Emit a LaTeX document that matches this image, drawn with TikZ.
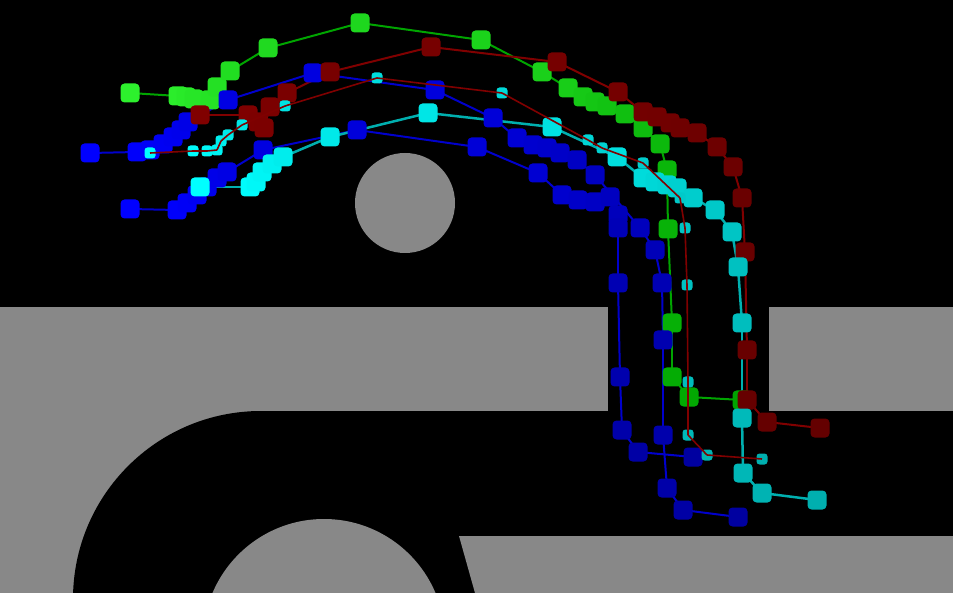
\documentclass[tikz,border=0pt]{standalone}
\pgfdeclarelayer{scene}
\pgfdeclarelayer{paths}
\pgfsetlayers{scene,paths,main}
\definecolor{floorgray}{RGB}{136,136,136}
\definecolor{grnA}{RGB}{45,240,45}
\definecolor{grnB}{RGB}{0,165,0}
\definecolor{redA}{RGB}{128,0,0}
\definecolor{redB}{RGB}{100,0,0}
\definecolor{bluA}{RGB}{0,0,255}
\definecolor{bluB}{RGB}{0,0,160}
\definecolor{cyaA}{RGB}{0,255,255}
\definecolor{cyaB}{RGB}{0,175,175}
\tikzset{
  marker/.style={rounded corners=4pt, minimum size=19pt, inner sep=0pt},
  smallmarker/.style={rounded corners=3pt, minimum size=11pt, inner sep=0pt},
  track/.style={line width=2pt}
}
\begin{document}
\begin{tikzpicture}[x=1pt, y=-1pt]
\useasboundingbox (0,0) rectangle (953,593);
% floor plan
\begin{pgfonlayer}{scene}
\fill[black] (0,0) rectangle (953,593);
\fill[floorgray] (405,203) circle[radius=50pt];
\fill[floorgray] (0,307) rectangle (608,411);
\fill[floorgray] (769,307) rectangle (953,411);
\fill[floorgray] (0,411) rectangle (261,593);
\fill[black] (261,599) circle[radius=188pt];
\fill[floorgray] (324,640) circle[radius=121pt];
\fill[floorgray] (459,536) -- (953,536) -- (953,593) -- (475,593) -- cycle;
\end{pgfonlayer}
% green track
\foreach \p [count=\i] in {(130,93),(178,96),(186,97),(194,99),(210,100),(217,87),(230,71),(268,48),(360,23),(481,40),(542,72),(568,88),(583,97),(595,102),(607,106),(625,114),(643,128),(660,144),(667,170),(668,229),(672,323),(672,377),(689,397),(742,400)} {
  \pgfmathtruncatemacro\t{100*(\i-1)/23}
  \node[marker, fill=grnB!\t!grnA] (g\i) at \p {};
}
% blue tracks
\foreach \p [count=\i] in {(90,153),(137,152),(150,150),(163,144),(173,137),(181,130),(188,122),(228,100),(313,73),(435,90),(493,118),(517,138),(533,145),(547,148),(560,153),(577,160),(595,175),(640,228),(655,250),(662,283),(663,340),(663,435),(667,488),(683,510),(738,517)} {
  \pgfmathtruncatemacro\t{100*(\i-1)/24}
  \node[marker, fill=bluB!\t!bluA] (ba\i) at \p {};
}
\foreach \p [count=\i] in {(130,209),(177,210),(187,203),(197,195),(207,187),(217,178),(227,172),(263,150),(357,130),(477,147),(538,173),(562,195),(578,200),(595,202),(610,197),(618,215),(618,228),(618,283),(620,377),(622,430),(638,452),(693,457)} {
  \pgfmathtruncatemacro\t{100*(\i-1)/21}
  \node[marker, fill=bluB!\t!bluA] (bb\i) at \p {};
}
% red track
\foreach \p [count=\i] in {(200,115),(248,115),(258,122),(264,128),(270,107),(287,93),(330,72),(431,47),(557,62),(618,92),(643,112),(657,117),(670,123),(680,128),(697,133),(717,147),(733,167),(742,198),(745,252),(747,350),(747,400),(767,422),(820,428)} {
  \pgfmathtruncatemacro\t{100*(\i-1)/22}
  \node[marker, fill=redB!\t!redA] (r\i) at \p {};
}
% cyan track
\foreach \p [count=\i] in {(200,187),(250,187),(256,182),(262,172),(272,164),(283,157),(330,137),(428,113),(552,127),(617,157),(643,178),(655,182),(667,185),(677,188),(693,198),(715,210),(732,232),(738,267),(742,323),(742,418),(743,473),(762,493),(817,500)} {
  \pgfmathtruncatemacro\t{100*(\i-1)/22}
  \node[marker, fill=cyaB!\t!cyaA] (c\i) at \p {};
}
% small cyan markers on a red line
\foreach \p [count=\i] in {(150,153),(193,151),(207,151),(217,150),(221,141),(228,135),(242,125),(285,106),(377,78),(502,93),(588,140),(602,148),(643,163),(680,198),(685,228),(687,285),(688,382),(688,435),(707,455),(762,459)} {
  \pgfmathtruncatemacro\t{100*(\i-1)/19}
  \node[smallmarker, fill=cyaB!\t!cyaA] (s\i) at \p {};
}
\foreach \i [remember=\i as \j (initially 1)] in {2,...,20}
  \draw[line width=1.6pt, redA] (s\j.center) -- (s\i.center);
\begin{pgfonlayer}{paths}
\foreach \i [remember=\i as \j (initially 1)] in {2,...,24}
  \draw[track, grnB] (g\j.center) -- (g\i.center);
\foreach \i [remember=\i as \j (initially 1)] in {2,...,25}
  \draw[track, blue!80!black] (ba\j.center) -- (ba\i.center);
\foreach \i [remember=\i as \j (initially 1)] in {2,...,22}
  \draw[track, blue!80!black] (bb\j.center) -- (bb\i.center);
\foreach \i [remember=\i as \j (initially 1)] in {2,...,23}
  \draw[track, redA] (r\j.center) -- (r\i.center);
\foreach \i [remember=\i as \j (initially 1)] in {2,...,23}
  \draw[line width=2.5pt, cyaB] (c\j.center) -- (c\i.center);
\end{pgfonlayer}
\end{tikzpicture}
\end{document}
